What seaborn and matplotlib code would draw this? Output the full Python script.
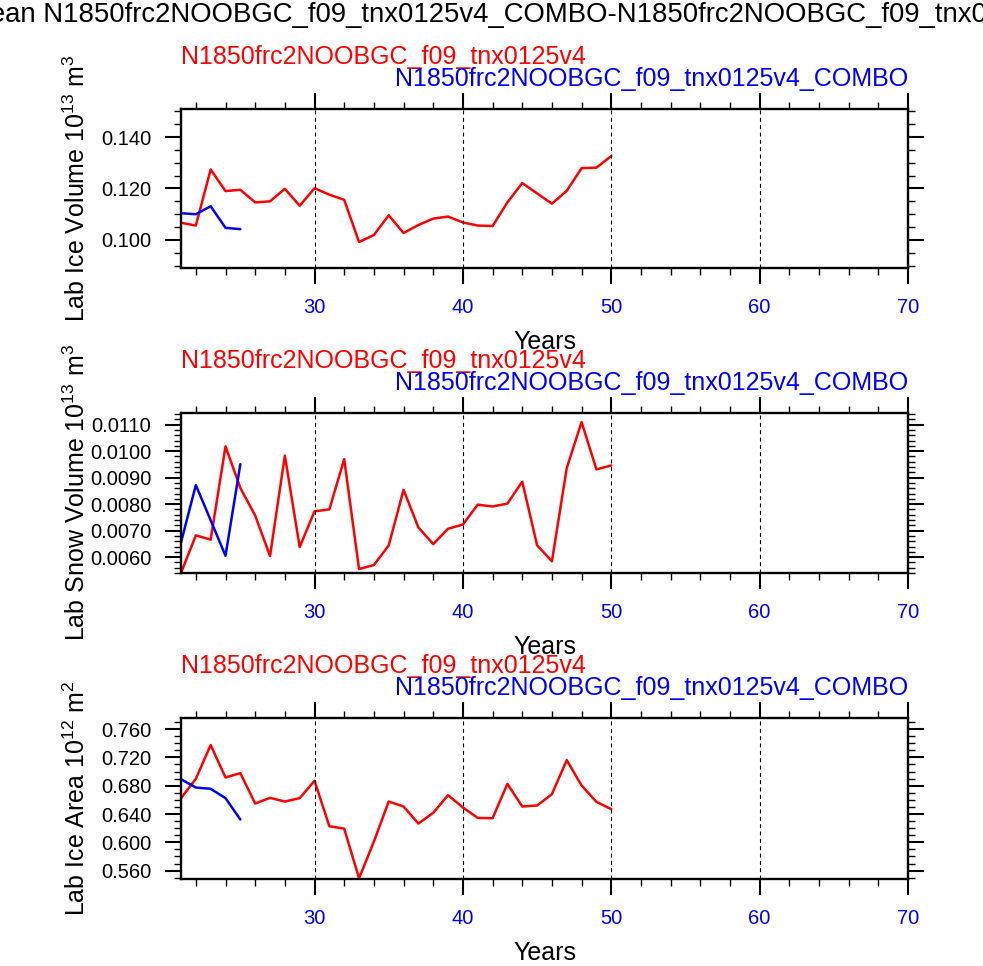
import numpy as np
import pandas as pd
import matplotlib
matplotlib.use("Agg")
import matplotlib.pyplot as plt
from matplotlib.ticker import MultipleLocator, FormatStrFormatter
import seaborn as sns

# ---------------- data ----------------
case_ctl = "N1850frc2NOOBGC_f09_tnx0125v4"
case_exp = "N1850frc2NOOBGC_f09_tnx0125v4_COMBO"
title = "Mean N1850frc2NOOBGC_f09_tnx0125v4_COMBO-N1850frc2NOOBGC_f09_tnx0125v4"

years_ctl = [21, 22, 23, 24, 25, 26, 27, 28, 29, 30,
             31, 32, 33, 34, 35, 36, 37, 38, 39, 40,
             41, 42, 43, 44, 45, 46, 47, 48, 49, 50]
years_exp = [21, 22, 23, 24, 25]

ice_vol_ctl = [0.1067, 0.1056, 0.1274, 0.1190, 0.1195, 0.1146, 0.1150, 0.1199, 0.1133, 0.1201,
               0.1176, 0.1156, 0.0992, 0.1019, 0.1096, 0.1027, 0.1058, 0.1083, 0.1091, 0.1068,
               0.1056, 0.1054, 0.1146, 0.1221, 0.1181, 0.1141, 0.1191, 0.1279, 0.1281, 0.1326]
ice_vol_exp = [0.1104, 0.1100, 0.1131, 0.1047, 0.1042]

snow_vol_ctl = [0.00540, 0.00682, 0.00666, 0.01018, 0.00861, 0.00757, 0.00604, 0.00983, 0.00638, 0.00773,
                0.00780, 0.00970, 0.00555, 0.00570, 0.00644, 0.00854, 0.00712, 0.00649, 0.00707, 0.00723,
                0.00798, 0.00791, 0.00802, 0.00885, 0.00645, 0.00584, 0.00936, 0.01110, 0.00931, 0.00946]
snow_vol_exp = [0.00655, 0.00872, 0.00739, 0.00605, 0.00951]

ice_area_ctl = [0.6624, 0.6897, 0.7374, 0.6916, 0.6977, 0.6548, 0.6628, 0.6576, 0.6624, 0.6869,
                0.6227, 0.6194, 0.5492, 0.6010, 0.6576, 0.6506, 0.6265, 0.6416, 0.6666, 0.6492,
                0.6345, 0.6340, 0.6826, 0.6506, 0.6520, 0.6680, 0.7161, 0.6803, 0.6572, 0.6468]
ice_area_exp = [0.6892, 0.6774, 0.6756, 0.6624, 0.6322]

ylabels = [r"Lab Ice Volume 10$^{13}$ m$^{3}$",
           r"Lab Snow Volume 10$^{13}$ m$^{3}$",
           r"Lab Ice Area 10$^{12}$ m$^{2}$"]
xlabel = "Years"

df = pd.concat([
    pd.DataFrame({"Year": years_ctl, "Case": case_ctl, "ice_vol": ice_vol_ctl,
                  "snow_vol": snow_vol_ctl, "ice_area": ice_area_ctl}),
    pd.DataFrame({"Year": years_exp, "Case": case_exp, "ice_vol": ice_vol_exp,
                  "snow_vol": snow_vol_exp, "ice_area": ice_area_exp}),
], ignore_index=True)

# ---------------- style ----------------
sns.set_style("ticks")
plt.rcParams["font.family"] = ["Liberation Sans", "DejaVu Sans"]
plt.rcParams["mathtext.default"] = "regular"
for k in ("text.color", "axes.labelcolor", "xtick.color", "ytick.color", "axes.edgecolor"):
    plt.rcParams[k] = "black"

palette = {case_ctl: "#ff0000", case_exp: "#0000ff"}

W, H = 983, 966
fig = plt.figure(figsize=(W / 100, H / 100), dpi=100)

# panel boxes in pixels: (top, bottom)
boxes = [(109, 268), (413, 573), (718, 879)]
left_px, right_px = 181, 908

panels = [
    ("ice_vol", (0.0891, 0.1509), 0.02, 0.005, "%.3f"),
    ("snow_vol", (0.00540, 0.01144), 0.001, 0.0002, "%.4f"),
    ("ice_area", (0.5482, 0.7756), 0.04, 0.01, "%.3f"),
]

for (top, bot), (col, ylim, major, minor, fmt), ylab in zip(boxes, panels, ylabels):
    ax = fig.add_axes([left_px / W, 1 - bot / H, (right_px - left_px) / W, (bot - top) / H])
    sns.lineplot(data=df, x="Year", y=col, hue="Case", palette=palette,
                 legend=False, ax=ax, linewidth=1.8)
    ax.set_xlim(21, 70)
    ax.set_ylim(*ylim)
    ax.xaxis.set_major_locator(MultipleLocator(10))
    ax.xaxis.set_minor_locator(MultipleLocator(2))
    ax.yaxis.set_major_locator(MultipleLocator(major))
    ax.yaxis.set_minor_locator(MultipleLocator(minor))
    ax.yaxis.set_major_formatter(FormatStrFormatter(fmt))
    ax.grid(axis="x", which="major", color="black", linestyle=(0, (3.6, 3)), linewidth=0.8)
    ax.set_axisbelow(False)
    for s in ax.spines.values():
        s.set_linewidth(1.7)
        s.set_visible(True)
        s.set_color("black")
    ax.tick_params(which="both", direction="out", top=True, right=True,
                   bottom=True, left=True, color="black")
    ax.tick_params(which="major", length=11.5, width=1.5, labelsize=14.5, pad=10)
    ax.tick_params(which="minor", length=5, width=1.0)
    ax.tick_params(axis="x", which="major", labelcolor="#0000ff")
    ax.tick_params(axis="y", which="major", labelcolor="black")

    ax.set_xlabel(xlabel, fontsize=18, color="black")
    ax.xaxis.set_label_coords(0.5, -81 / (bot - top))
    ax.xaxis.label.set_verticalalignment("baseline")
    ax.set_ylabel(ylab, fontsize=18, color="black")
    ax.yaxis.set_label_coords(-0.125, 0.5)

    ax.annotate(case_ctl, xy=(0, 1), xycoords="axes fraction",
                xytext=(0, 45 * 0.72), textcoords="offset points",
                ha="left", va="baseline", color="#ff0000", fontsize=18)
    ax.annotate(case_exp, xy=(1, 1), xycoords="axes fraction",
                xytext=(0, 23 * 0.72), textcoords="offset points",
                ha="right", va="baseline", color="#0000ff", fontsize=18)

fig.text(514.5 / W, 1 - 21.5 / H, title, ha="center", va="baseline", fontsize=19.8, color="black")

fig.savefig("out.png", dpi=100)
